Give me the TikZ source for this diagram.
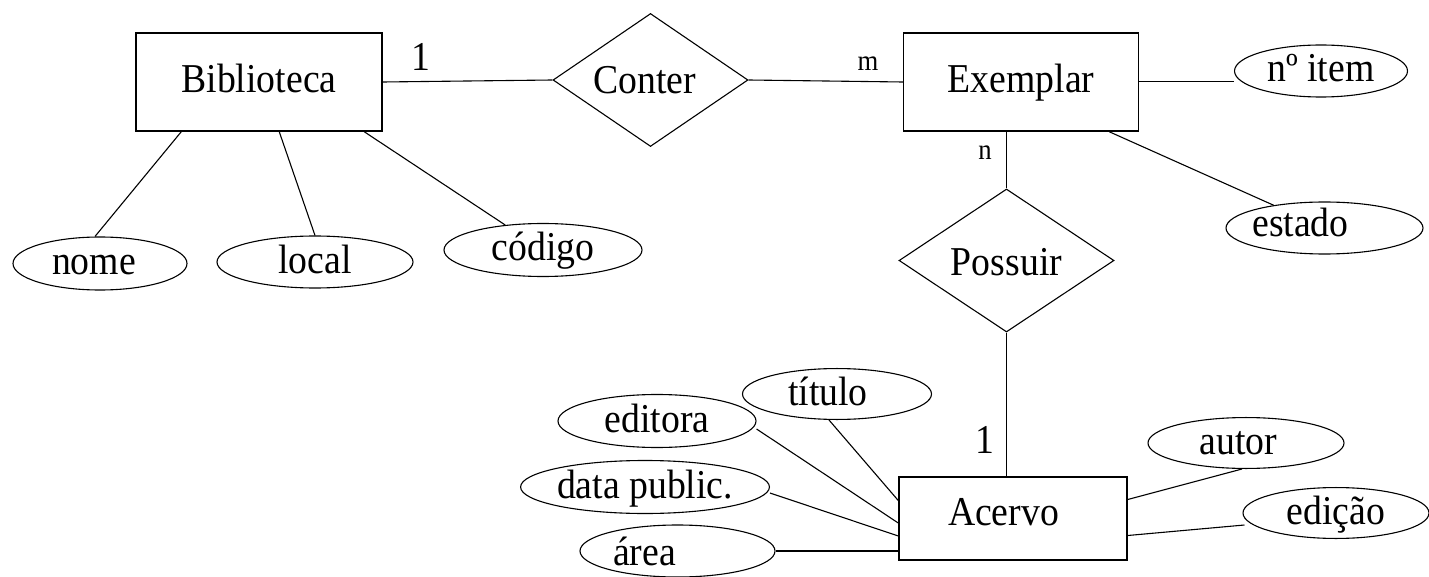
\documentclass[tikz,border=0pt]{standalone}
\usepackage{fontspec}
\setmainfont{Liberation Serif}[FakeStretch=0.92]
\usetikzlibrary{shapes.geometric}
\tikzset{
  entity/.style 2 args={draw, rectangle, line width=1.5pt, inner sep=0pt,
    minimum width=#1pt, minimum height=#2pt},
  relation/.style 2 args={draw, diamond, line width=1.1pt, inner sep=0pt,
    minimum width=#1pt, minimum height=#2pt},
  attr/.style 2 args={draw, ellipse, line width=1.1pt, inner sep=0pt,
    minimum width=#1pt, minimum height=#2pt},
  link/.style={line width=1.1pt},
  card/.style={font=\fontsize{41}{44}\selectfont, inner sep=0pt},
  smallcard/.style={font=\fontsize{29}{32}\selectfont, inner sep=0pt},
}
\begin{document}
\begin{tikzpicture}[x=1pt, y=-1pt, font=\fontsize{41}{44}\selectfont,
  every node/.style={text height=29pt, text depth=7pt}]
\useasboundingbox (0,0) rectangle (1429,577);

% entities and relationships
\node[entity={246}{98}] (bib) at (259,82) {Biblioteca};
\node[relation={195}{133}, label={[shift={(-6pt,-3pt)}]center:Conter}] (conter) at (650.5,80) {};
\node[entity={235}{98}] (exemplar) at (1021,82) {Exemplar};
\node[relation={215}{143}, label={[yshift=-4pt]center:Possuir}] (possuir) at (1006.5,260.5) {};
\node[entity={228}{83}, label={[shift={(-9.5pt,4.5pt)}]center:Acervo}] (acervo) at (1013,518.5) {};

% attributes of Biblioteca
\node[attr={174}{53}, label={[xshift=-6pt]center:nome}] (nome) at (100,263.5) {};
\node[attr={196}{52}] (local) at (315,262) {local};
\node[attr={198}{53}] (codigo) at (543,250) {código};

% attributes of Exemplar
\node[attr={173}{52}] (item) at (1321,71) {nº item};
\node[attr={197}{52}, label={[xshift=-24pt,yshift=2pt]center:estado}] (estado) at (1324.5,228) {};

% attributes of Acervo
\node[attr={189}{41}, label={[xshift=-9pt]center:título}] (titulo) at (837,394) {};
\node[attr={198}{53}] (editora) at (657,421) {editora};
\node[attr={245}{53}] (data) at (645,487) {data public.};
\node[attr={195}{52}, label={[xshift=-33pt,yshift=-3pt]center:área}] (area) at (677.5,551) {};
\node[attr={196}{48}, label={[xshift=-7.5pt]center:autor}] (autor) at (1246,443) {};
\node[attr={186}{50}] (edicao) at (1336,513) {edição};

% relationship lines
\draw[link] (bib.east) -- (conter.west);
\draw[link] (conter.east) -- (exemplar.west);
\draw[link] (possuir.north |- exemplar.south) -- (possuir.north);
\draw[link] (possuir.south) -- (possuir.south |- acervo.north);

% cardinalities
\node[card] (c1) at (421,60) {1};
\node[smallcard] (cm) at (868,60) {m};
\node[smallcard] (cn) at (985,149) {n};
\node[card] (c2) at (985,442) {1};

% attribute lines
\draw[link] ([xshift=46pt]bib.south west) -- ([xshift=-5pt]nome.north);
\draw[link] ([xshift=144pt]bib.south west) -- (local.north);
\draw[link] ([xshift=229pt]bib.south west) -- (codigo);

\draw[link] ([yshift=0.5pt]exemplar.east) -- ([yshift=0.5pt]exemplar.east -| item.west);
\draw[link] ([xshift=-30pt]exemplar.south east) -- (estado);

\draw[link] ([yshift=18pt]acervo.west) -- ([xshift=-8pt]titulo.south);
\draw[link] ([yshift=-4.5pt]acervo.west) -- ([yshift=-8pt]editora.east);
\draw[link] ([yshift=-17.5pt]acervo.west) -- ([yshift=-6pt]data.east);
\draw[link] (area.east) -- (area.east -| acervo.west);
\draw[link] ([yshift=19pt]acervo.east) -- ([xshift=-4pt]autor.south);
\draw[link] ([yshift=-17pt]acervo.east) -- ([xshift=2pt,yshift=-12pt]edicao.west);
\end{tikzpicture}
\end{document}
